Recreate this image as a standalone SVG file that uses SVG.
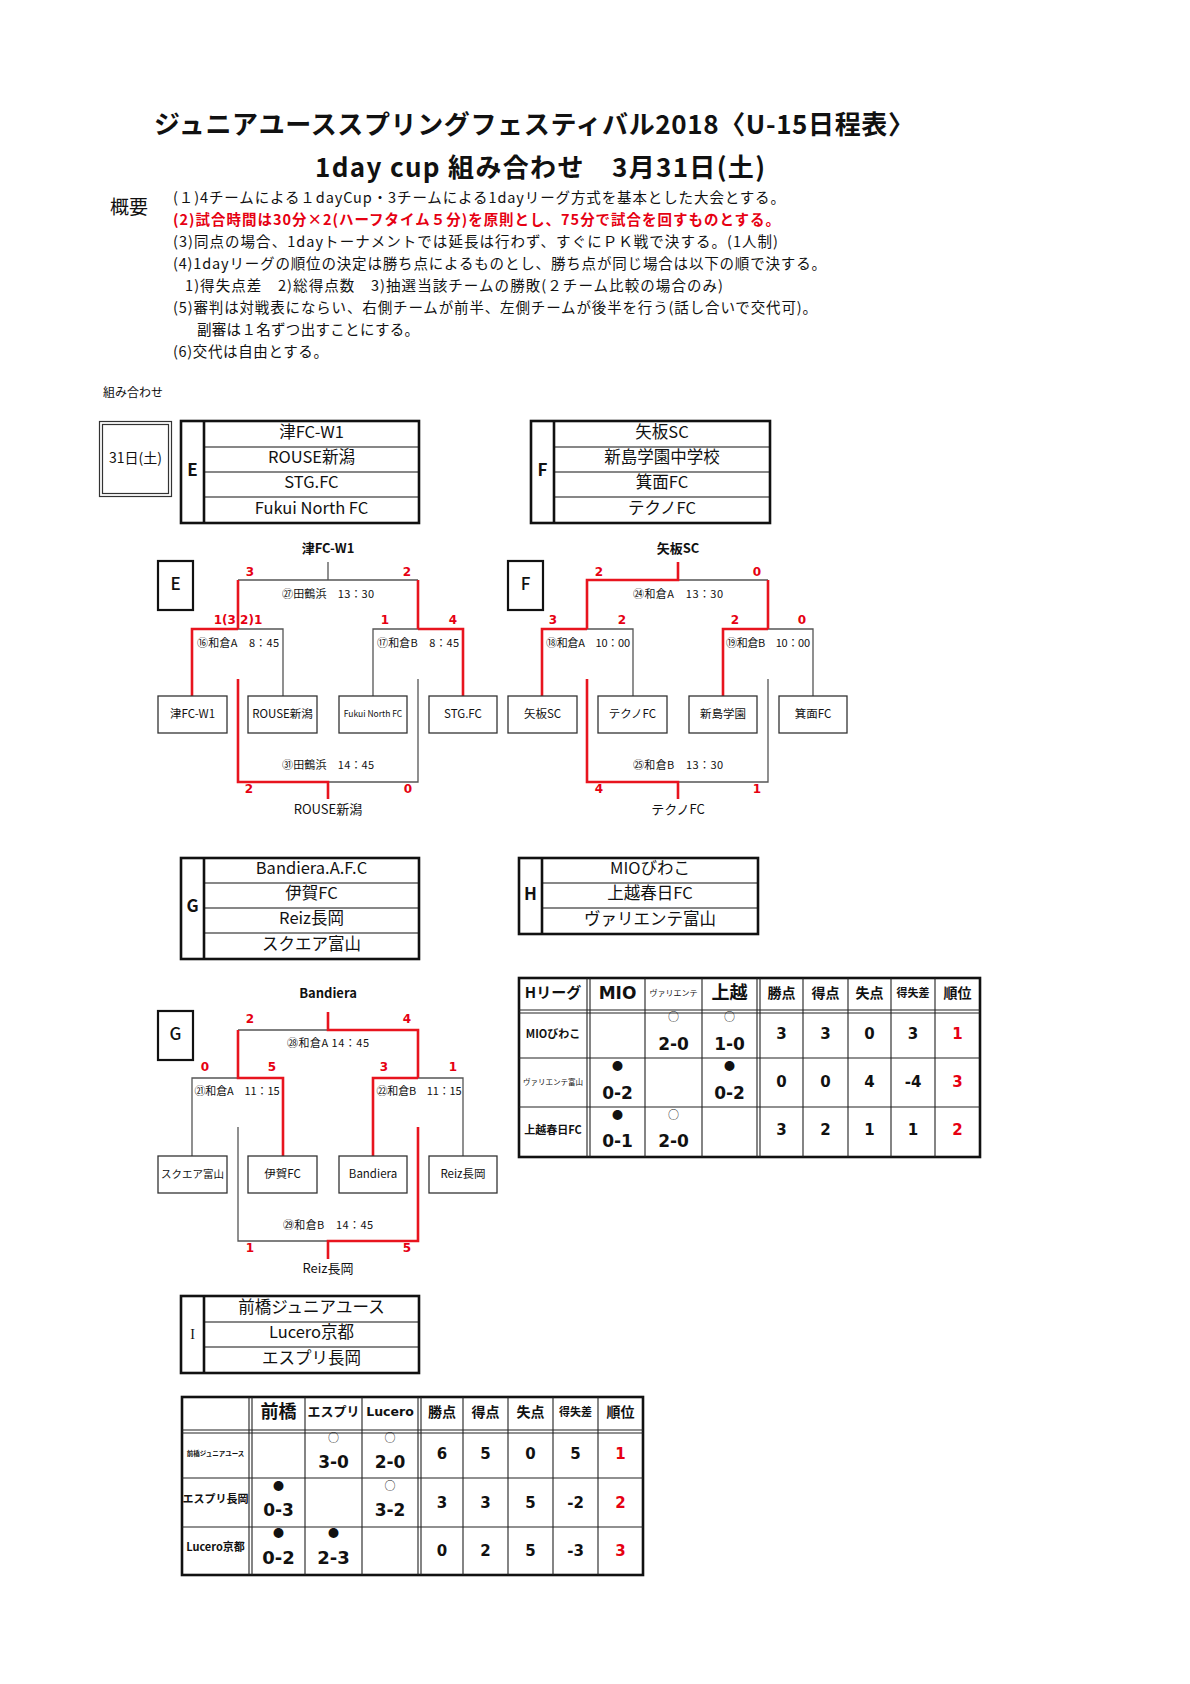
<svg xmlns="http://www.w3.org/2000/svg" width="1190" height="1684" viewBox="0 0 1190 1684">
<style>
text{font-family:"Noto Sans CJK JP","DejaVu Sans",sans-serif;fill:#111}
.n{font-family:"DejaVu Sans","Noto Sans CJK JP",sans-serif;font-weight:bold}
.b{font-weight:bold}
.red{fill:#e60012}
.c{text-anchor:middle}
.r{stroke:#e8141e;stroke-width:2.6;fill:none}
.g{stroke:#555;stroke-width:1.3;fill:none}
.box{fill:#fff;stroke:#333;stroke-width:1.3}
.tb{fill:none;stroke:#111;stroke-width:2.6}
.tl{stroke:#111;stroke-width:1.2}
.gl{stroke:#222;stroke-width:1.1}
.note{font-size:14.5px}
.bl{font-size:11px}
.sc{font-size:12px;font-weight:bold;fill:#e60012;text-anchor:middle;font-family:"DejaVu Sans",sans-serif}
.tm{font-size:16.5px;text-anchor:middle}
.bt{font-size:11.5px;text-anchor:middle}
</style>
<rect width="1190" height="1684" fill="#fff"/>

<!-- titles -->
<text x="154" y="134" font-size="26" class="b" textLength="760">ジュニアユーススプリングフェスティバル2018〈U-15日程表〉</text>
<text x="315" y="177" font-size="26" class="b" textLength="450">1day cup 組み合わせ　3月31日(土)</text>

<!-- notes -->
<text x="110" y="214" font-size="19">概要</text>
<g class="note">
<text x="173" y="203" textLength="612">(１)4チームによる１dayCup・3チームによる1dayリーグ方式を基本とした大会とする。</text>
<text x="173" y="225" textLength="607" class="b red">(2)試合時間は30分×2(ハーフタイム５分)を原則とし、75分で試合を回すものとする。</text>
<text x="173" y="247" textLength="605">(3)同点の場合、1dayトーナメントでは延長は行わず、すぐにＰＫ戦で決する。(1人制)</text>
<text x="173" y="269" textLength="653">(4)1dayリーグの順位の決定は勝ち点によるものとし、勝ち点が同じ場合は以下の順で決する。</text>
<text x="185" y="291" textLength="538">1)得失点差　2)総得点数　3)抽選当該チームの勝敗(２チーム比較の場合のみ)</text>
<text x="173" y="313" textLength="644">(5)審判は対戦表にならい、右側チームが前半、左側チームが後半を行う(話し合いで交代可)。</text>
<text x="197" y="335" textLength="222">副審は１名ずつ出すことにする。</text>
<text x="173" y="357" textLength="155">(6)交代は自由とする。</text>
</g>
<text x="103" y="397" font-size="12" fill="#333">組み合わせ</text>

<!-- date box -->
<g id="date">
<rect x="99.5" y="421.5" width="72" height="75" fill="none" stroke="#333" stroke-width="1.2"/>
<rect x="102.5" y="424.5" width="66" height="69" fill="none" stroke="#333" stroke-width="1.2"/>
<text x="135.5" y="463" font-size="14" class="c">31日(土)</text>
</g>

<!-- group tables -->
<g id="groupE">
<rect x="181" y="421" width="238" height="102" class="tb"/>
<line x1="204" y1="421" x2="204" y2="523" class="tb"/>
<line x1="204" y1="447" x2="419" y2="447" class="tl"/>
<line x1="204" y1="472" x2="419" y2="472" class="tl"/>
<line x1="204" y1="497" x2="419" y2="497" class="tl"/>
<text x="192.5" y="476" font-size="17" class="b c">E</text>
<text x="311.5" y="438" class="tm">津FC-W1</text>
<text x="311.5" y="463" class="tm">ROUSE新潟</text>
<text x="311.5" y="488" class="tm">STG.FC</text>
<text x="311.5" y="514" class="tm">Fukui North FC</text>
</g>
<g id="groupF">
<rect x="531" y="421" width="239" height="102" class="tb"/>
<line x1="554" y1="421" x2="554" y2="523" class="tb"/>
<line x1="554" y1="447" x2="770" y2="447" class="tl"/>
<line x1="554" y1="472" x2="770" y2="472" class="tl"/>
<line x1="554" y1="497" x2="770" y2="497" class="tl"/>
<text x="542.5" y="476" font-size="17" class="b c">F</text>
<text x="662" y="438" class="tm">矢板SC</text>
<text x="662" y="463" class="tm">新島学園中学校</text>
<text x="662" y="488" class="tm">箕面FC</text>
<text x="662" y="514" class="tm">テクノFC</text>
</g>
<g id="groupG">
<rect x="181" y="858" width="238" height="101" class="tb"/>
<line x1="204" y1="858" x2="204" y2="959" class="tb"/>
<line x1="204" y1="883" x2="419" y2="883" class="tl"/>
<line x1="204" y1="908" x2="419" y2="908" class="tl"/>
<line x1="204" y1="933" x2="419" y2="933" class="tl"/>
<text x="192.5" y="912" font-size="17" class="b c">G</text>
<text x="311.5" y="874" class="tm">Bandiera.A.F.C</text>
<text x="311.5" y="899" class="tm">伊賀FC</text>
<text x="311.5" y="924" class="tm">Reiz長岡</text>
<text x="311.5" y="950" class="tm">スクエア富山</text>
</g>
<g id="groupH">
<rect x="519" y="858" width="239" height="76" class="tb"/>
<line x1="542" y1="858" x2="542" y2="934" class="tb"/>
<line x1="542" y1="883" x2="758" y2="883" class="tl"/>
<line x1="542" y1="908" x2="758" y2="908" class="tl"/>
<text x="530.5" y="900" font-size="17" class="b c">H</text>
<text x="650" y="874" class="tm">MIOびわこ</text>
<text x="650" y="899" class="tm">上越春日FC</text>
<text x="650" y="925" class="tm">ヴァリエンテ富山</text>
</g>
<g id="groupI">
<rect x="181" y="1296" width="238" height="77" class="tb"/>
<line x1="204" y1="1296" x2="204" y2="1373" class="tb"/>
<line x1="204" y1="1322" x2="419" y2="1322" class="tl"/>
<line x1="204" y1="1347" x2="419" y2="1347" class="tl"/>
<text x="192.5" y="1339" font-size="14" class="c" style="font-family:'Liberation Serif',serif">I</text>
<text x="311.5" y="1313" class="tm">前橋ジュニアユース</text>
<text x="311.5" y="1338" class="tm">Lucero京都</text>
<text x="311.5" y="1364" class="tm">エスプリ長岡</text>
</g>

<!-- bracket E -->
<g id="bracketE">
<rect x="158" y="561" width="35" height="49" fill="#fff" stroke="#111" stroke-width="2.2"/>
<text x="175.5" y="590" font-size="17" font-weight="500" class="c">E</text>
<text x="328" y="553" font-size="13" class="b c">津FC-W1</text>
<text x="328" y="598" class="bl c" textLength="92">㉗田鶴浜　13：30</text>
<text x="238" y="647" class="bl c" textLength="82">⑯和倉A　8：45</text>
<text x="418" y="647" class="bl c" textLength="82">⑰和倉B　8：45</text>
<text x="328" y="769" class="bl c" textLength="92">㉛田鶴浜　14：45</text>
<text x="328" y="814" font-size="13" class="c">ROUSE新潟</text>
<text x="250" y="576" class="sc">3</text>
<text x="407" y="576" class="sc">2</text>
<text x="238" y="624" class="sc">1(3 2)1</text>
<text x="385" y="624" class="sc">1</text>
<text x="453" y="624" class="sc">4</text>
<text x="249" y="793" class="sc">2</text>
<text x="408" y="793" class="sc">0</text>
</g>
<g id="bracketF">
<rect x="508" y="561" width="35" height="49" fill="#fff" stroke="#111" stroke-width="2.2"/>
<text x="525.5" y="590" font-size="17" font-weight="500" class="c">F</text>
<text x="678" y="553" font-size="13" class="b c">矢板SC</text>
<text x="678" y="598" class="bl c" textLength="90">㉔和倉A　13：30</text>
<text x="588" y="647" class="bl c" textLength="84">⑱和倉A　10：00</text>
<text x="768" y="647" class="bl c" textLength="84">⑲和倉B　10：00</text>
<text x="678" y="769" class="bl c" textLength="90">㉕和倉B　13：30</text>
<text x="678" y="814" font-size="13" class="c">テクノFC</text>
<text x="599" y="576" class="sc">2</text>
<text x="757" y="576" class="sc">0</text>
<text x="553" y="624" class="sc">3</text>
<text x="622" y="624" class="sc">2</text>
<text x="735" y="624" class="sc">2</text>
<text x="802" y="624" class="sc">0</text>
<text x="599" y="793" class="sc">4</text>
<text x="757" y="793" class="sc">1</text>
</g>
<g id="bracketG">
<rect x="158" y="1011" width="35" height="49" fill="#fff" stroke="#111" stroke-width="2.2"/>
<text x="175.5" y="1040" font-size="17" font-weight="500" class="c">G</text>
<text x="328" y="998" font-size="13" class="b c">Bandiera</text>
<text x="328" y="1047" class="bl c" textLength="82">㉘和倉A 14：45</text>
<text x="237" y="1095" class="bl c" textLength="85">㉑和倉A　11：15</text>
<text x="419" y="1095" class="bl c" textLength="85">㉒和倉B　11：15</text>
<text x="328" y="1229" class="bl c" textLength="90">㉙和倉B　14：45</text>
<text x="328" y="1273" font-size="13" class="c">Reiz長岡</text>
<text x="250" y="1023" class="sc">2</text>
<text x="407" y="1023" class="sc">4</text>
<text x="205" y="1071" class="sc">0</text>
<text x="272" y="1071" class="sc">5</text>
<text x="384" y="1071" class="sc">3</text>
<text x="453" y="1071" class="sc">1</text>
<text x="250" y="1252" class="sc">1</text>
<text x="407" y="1252" class="sc">5</text>
</g>

<!-- connectors -->
<g id="connectors">
<path class="g" d="M328,562V580M238,580H418M238,629H283V696M373,696V629H418M418,679V782H328"/>
<path class="r" d="M238,580V629M418,580V629M192,696V629H238M418,629H463V696M238,679V782H328V799"/>
<path class="g" d="M678,580H768M587,629H633V696M768,629H813V696M768,679V782H678"/>
<path class="r" d="M678,562V580H587V629M768,580V629M542,696V629H587M723,696V629H768M587,679V782H678V799"/>
<path class="g" d="M238,1030H328M192,1156V1078H238M418,1078H463V1156M238,1127V1241H328"/>
<path class="r" d="M328,1012V1030H418V1078M238,1030V1078H283V1156M373,1156V1078H418M418,1127V1241H328V1259"/>
</g>

<!-- bracket team boxes -->
<g id="boxesE">
<rect x="158" y="696" width="69" height="37" class="box"/><text x="192.5" y="718" class="bt">津FC-W1</text>
<rect x="248" y="696" width="69" height="37" class="box"/><text x="282.5" y="718" class="bt" font-size="11">ROUSE新潟</text>
<rect x="339" y="696" width="68" height="37" class="box"/><text x="373" y="717" class="bt" style="font-size:8.5px">Fukui North FC</text>
<rect x="429" y="696" width="68" height="37" class="box"/><text x="463" y="718" class="bt">STG.FC</text>
</g>
<g id="boxesF">
<rect x="508" y="696" width="69" height="37" class="box"/><text x="542.5" y="718" class="bt">矢板SC</text>
<rect x="598" y="696" width="69" height="37" class="box"/><text x="632.5" y="718" class="bt">テクノFC</text>
<rect x="689" y="696" width="68" height="37" class="box"/><text x="723" y="718" class="bt">新島学園</text>
<rect x="779" y="696" width="68" height="37" class="box"/><text x="813" y="718" class="bt">箕面FC</text>
</g>
<g id="boxesG">
<rect x="158" y="1156" width="69" height="37" class="box"/><text x="192.5" y="1178" class="bt" style="font-size:10.5px">スクエア富山</text>
<rect x="248" y="1156" width="69" height="37" class="box"/><text x="282.5" y="1178" class="bt">伊賀FC</text>
<rect x="339" y="1156" width="68" height="37" class="box"/><text x="373" y="1178" class="bt">Bandiera</text>
<rect x="429" y="1156" width="68" height="37" class="box"/><text x="463" y="1178" class="bt">Reiz長岡</text>
</g>

<!-- H league table -->
<g id="leagueH">
<rect x="519" y="978" width="461" height="179" class="tb"/>
<path class="gl" d="M587,978V1157M590,978V1157M645,978V1157M702,978V1157M757,978V1157M760,978V1157M803,978V1157M848,978V1157M891,978V1157M935,978V1157M519,1010H980M519,1013H980M519,1058H980M519,1107H980"/>
<text x="553" y="998" font-size="15" class="b c">Hリーグ</text>
<text x="617.5" y="999" font-size="17" class="n c">MIO</text>
<text x="673.5" y="996" font-size="8" class="c">ヴァリエンテ</text>
<text x="729.5" y="999" font-size="18" class="b c">上越</text>
<text x="781.5" y="998" font-size="14" class="b c">勝点</text>
<text x="825.5" y="998" font-size="14" class="b c">得点</text>
<text x="869.5" y="998" font-size="14" class="b c">失点</text>
<text x="913" y="997" font-size="11" class="b c">得失差</text>
<text x="957.5" y="998" font-size="14" class="b c">順位</text>

<text x="553" y="1038" font-size="11" class="b c">MIOびわこ</text>
<text x="553" y="1085" font-size="7.5" class="c">ヴァリエンテ富山</text>
<text x="553" y="1134" font-size="11" class="b c">上越春日FC</text>

<text x="673.5" y="1021" font-size="11" class="c" fill="#555">○</text>
<text x="729.5" y="1021" font-size="11" class="c" fill="#555">○</text>
<text x="617.5" y="1070" font-size="11" class="c">●</text>
<text x="729.5" y="1070" font-size="11" class="c">●</text>
<text x="617.5" y="1119" font-size="11" class="c">●</text>
<text x="673.5" y="1119" font-size="11" class="c" fill="#555">○</text>

<text x="673.5" y="1050" font-size="17" class="n c">2-0</text>
<text x="729.5" y="1050" font-size="17" class="n c">1-0</text>
<text x="617.5" y="1099" font-size="17" class="n c">0-2</text>
<text x="729.5" y="1099" font-size="17" class="n c">0-2</text>
<text x="617.5" y="1147" font-size="17" class="n c">0-1</text>
<text x="673.5" y="1147" font-size="17" class="n c">2-0</text>

<g font-size="15" class="n">
<text x="781.5" y="1039" class="n c">3</text><text x="825.5" y="1039" class="n c">3</text><text x="869.5" y="1039" class="n c">0</text><text x="913" y="1039" class="n c">3</text><text x="957.5" y="1039" class="n c red">1</text>
<text x="781.5" y="1087" class="n c">0</text><text x="825.5" y="1087" class="n c">0</text><text x="869.5" y="1087" class="n c">4</text><text x="913" y="1087" class="n c">-4</text><text x="957.5" y="1087" class="n c red">3</text>
<text x="781.5" y="1135" class="n c">3</text><text x="825.5" y="1135" class="n c">2</text><text x="869.5" y="1135" class="n c">1</text><text x="913" y="1135" class="n c">1</text><text x="957.5" y="1135" class="n c red">2</text>
</g>
</g>

<!-- I league table -->
<g id="leagueI">
<rect x="182" y="1397" width="461" height="178" class="tb"/>
<path class="gl" d="M249,1397V1575M252,1397V1575M305,1397V1575M362,1397V1575M418,1397V1575M421,1397V1575M463,1397V1575M508,1397V1575M553,1397V1575M598,1397V1575M182,1430H643M182,1433H643M182,1478H643M182,1527H643"/>
<text x="278.5" y="1418" font-size="18" class="b c">前橋</text>
<text x="333.5" y="1416" font-size="13" class="b c">エスプリ</text>
<text x="390" y="1416" font-size="12.5" class="n c">Lucero</text>
<text x="442" y="1417" font-size="14" class="b c">勝点</text>
<text x="485.5" y="1417" font-size="14" class="b c">得点</text>
<text x="530.5" y="1417" font-size="14" class="b c">失点</text>
<text x="575.5" y="1416" font-size="11" class="b c">得失差</text>
<text x="620.5" y="1417" font-size="14" class="b c">順位</text>

<text x="215.5" y="1456" font-size="6.5" class="b c">前橋ジュニアユース</text>
<text x="215.5" y="1503" font-size="11" class="b c">エスプリ長岡</text>
<text x="215.5" y="1551" font-size="11" class="b c">Lucero京都</text>

<text x="333.5" y="1442" font-size="11" class="c" fill="#555">○</text>
<text x="390" y="1442" font-size="11" class="c" fill="#555">○</text>
<text x="278.5" y="1490" font-size="11" class="c">●</text>
<text x="390" y="1490" font-size="11" class="c" fill="#555">○</text>
<text x="278.5" y="1537" font-size="11" class="c">●</text>
<text x="333.5" y="1537" font-size="11" class="c">●</text>

<text x="333.5" y="1468" font-size="17" class="n c">3-0</text>
<text x="390" y="1468" font-size="17" class="n c">2-0</text>
<text x="278.5" y="1516" font-size="17" class="n c">0-3</text>
<text x="390" y="1516" font-size="17" class="n c">3-2</text>
<text x="278.5" y="1564" font-size="18" class="n c">0-2</text>
<text x="333.5" y="1564" font-size="18" class="n c">2-3</text>

<g font-size="15">
<text x="442" y="1459" class="n c">6</text><text x="485.5" y="1459" class="n c">5</text><text x="530.5" y="1459" class="n c">0</text><text x="575.5" y="1459" class="n c">5</text><text x="620.5" y="1459" class="n c red">1</text>
<text x="442" y="1508" class="n c">3</text><text x="485.5" y="1508" class="n c">3</text><text x="530.5" y="1508" class="n c">5</text><text x="575.5" y="1508" class="n c">-2</text><text x="620.5" y="1508" class="n c red">2</text>
<text x="442" y="1556" class="n c">0</text><text x="485.5" y="1556" class="n c">2</text><text x="530.5" y="1556" class="n c">5</text><text x="575.5" y="1556" class="n c">-3</text><text x="620.5" y="1556" class="n c red">3</text>
</g>
</g>
</svg>
